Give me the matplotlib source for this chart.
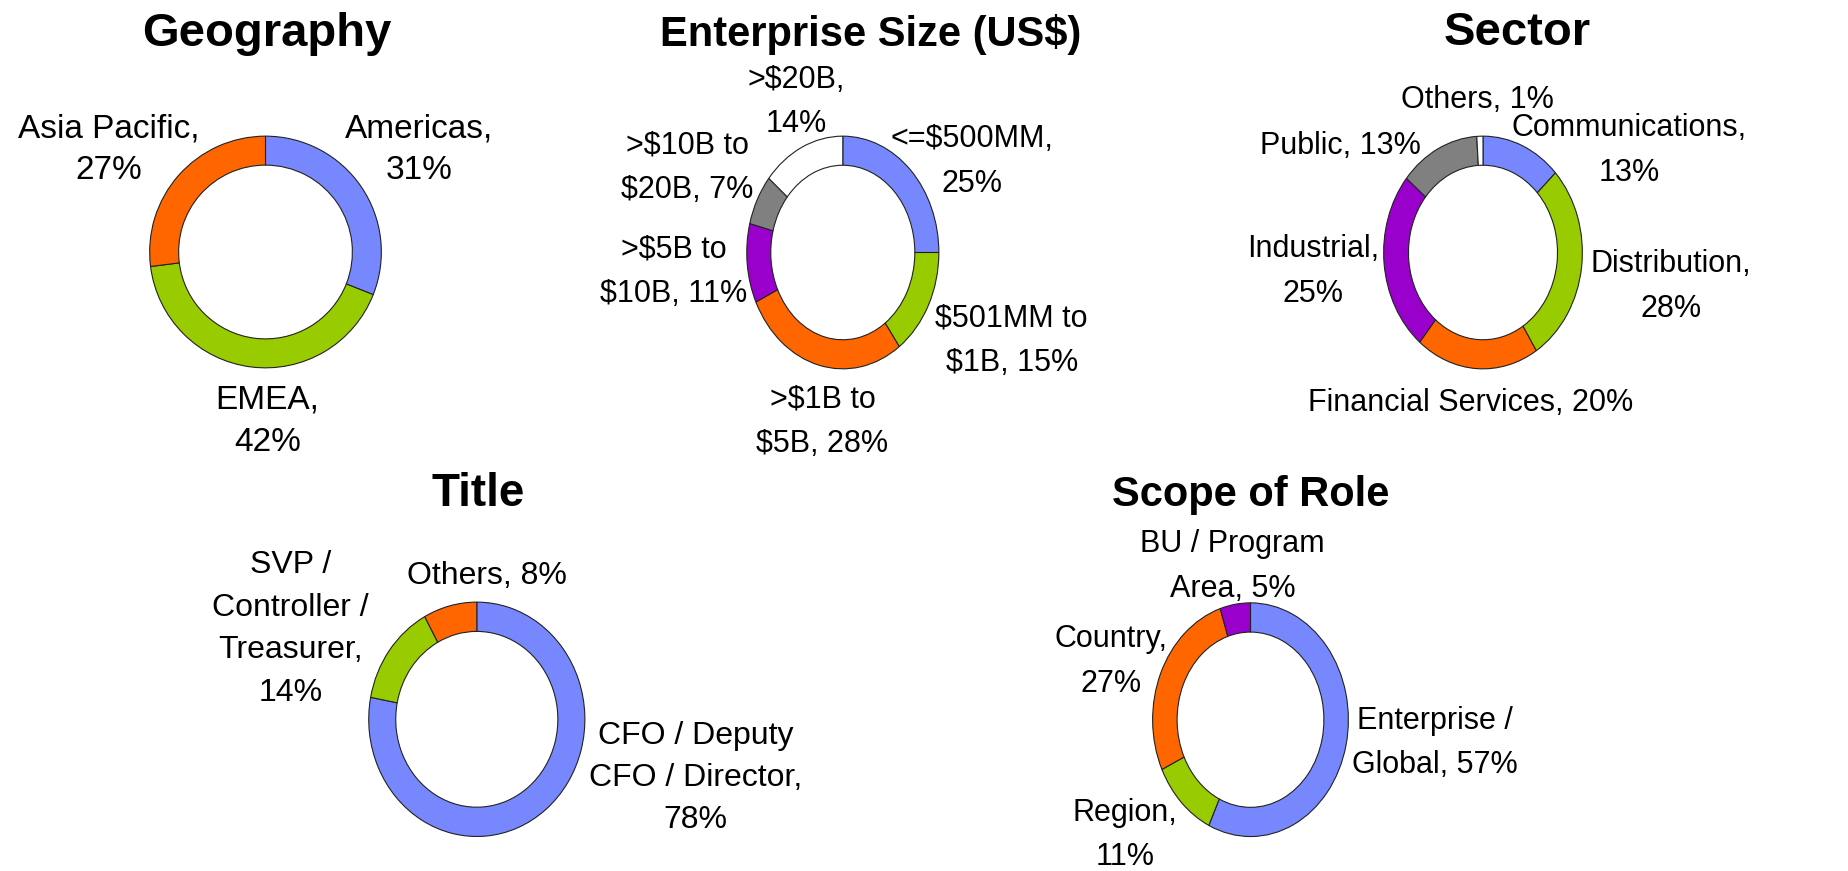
import matplotlib
matplotlib.use("Agg")
import matplotlib.pyplot as plt

plt.rcParams['font.family'] = ['Liberation Sans', 'DejaVu Sans']

W, H = 1848, 871

BLUE = '#7788ff'
GREEN = '#99cc00'
ORANGE = '#ff6600'
PURPLE = '#9900cc'
GRAY = '#808080'
WHITE = '#ffffff'

# data
geo_names = ["Americas", "EMEA", "Asia Pacific"]
geo_values = [31, 42, 27]

size_names = ["<=$500MM", "$501MM to\n$1B", ">$1B to\n$5B", ">$5B to\n$10B",
              ">$10B to\n$20B", ">$20B"]
size_values = [25, 15, 28, 11, 7, 14]

sector_names = ["Communications", "Distribution", "Financial Services",
                "Industrial", "Public", "Others"]
sector_values = [13, 28, 20, 25, 13, 1]

title_names = ["CFO / Deputy\nCFO / Director", "SVP /\nController /\nTreasurer", "Others"]
title_values = [78, 14, 8]

scope_names = ["Enterprise /\nGlobal", "Region", "Country", "BU / Program\nArea"]
scope_values = [57, 11, 27, 5]

# separator between name and value in each label (" " = same line)
geo_sep = ["\n", "\n", "\n"]
size_sep = ["\n", " ", " ", " ", " ", "\n"]
sector_sep = ["\n", "\n", " ", "\n", " ", " "]
title_sep = ["\n", "\n", " "]
scope_sep = [" ", "\n", "\n", " "]


def px_axes(cx, cy, w, h):
    return fig.add_axes([(cx - w / 2) / W, (H - cy - h / 2) / H, w / W, h / H])


def donut(cx, cy, w, h, values, colors, title, title_xy, title_fs):
    ax = px_axes(cx, cy, w, h)
    ax.pie(values, colors=colors, startangle=90, counterclock=False, radius=1,
           wedgeprops=dict(width=0.25, edgecolor='#222222', linewidth=0.8))
    ax.set_aspect('auto')
    ax.set_xlim(-1.01, 1.01)
    ax.set_ylim(-1.01, 1.01)
    ax.axis('off')
    fig.text(title_xy[0] / W, 1 - title_xy[1] / H, title, ha='center', va='baseline',
             fontsize=title_fs, fontweight='bold')


def labels(names, values, seps, positions, fs):
    # keep the baseline-to-baseline distance near 43 px whatever the size
    px = fs * 100 / 72
    ls = (42.7 / px - 0.21) / 0.73
    for n, v, s, (x, y) in zip(names, values, seps, positions):
        fig.text(x / W, 1 - (y + 3) / H, f"{n},{s}{v}%", ha='center', va='center',
                 fontsize=fs, linespacing=ls, multialignment='center')


fig = plt.figure(figsize=(W / 100, H / 100), dpi=100)

donut(265.5, 252, 234, 234, geo_values, [BLUE, GREEN, ORANGE], "Geography", (266.7, 46), 34)
labels(geo_names, geo_values, geo_sep,
       [(419.5, 146.7), (267.5, 418), (108.3, 146.7)], 24)

donut(842.8, 252.5, 194, 235, size_values, [BLUE, GREEN, ORANGE, PURPLE, GRAY, WHITE],
      "Enterprise Size (US$)", (870.8, 46), 30)
labels(size_names, size_values, size_sep,
       [(971.7, 158.3), (1011.7, 338), (822.5, 419), (674, 269), (687.5, 164.7), (795.8, 99)], 22)

donut(1483, 252.5, 200.7, 235, sector_values, [BLUE, GREEN, ORANGE, PURPLE, GRAY, WHITE],
      "Sector", (1517, 45), 34)
labels(sector_names, sector_values, sector_sep,
       [(1629, 147.5), (1670.8, 283.3), (1470.8, 400), (1313.3, 268.3), (1340, 142.5),
        (1477.5, 97.5)], 22)

donut(476.8, 719.3, 218.3, 236.7, title_values, [BLUE, GREEN, ORANGE], "Title", (477.7, 505.7), 33)
labels(title_names, title_values, title_sep,
       [(695.8, 775), (290.8, 625.8), (486.7, 573.3)], 23)

donut(1250.5, 719.7, 197.7, 236, scope_values, [BLUE, GREEN, ORANGE, PURPLE],
      "Scope of Role", (1251, 505.7), 30)
labels(scope_names, scope_values, scope_sep,
       [(1435, 740), (1125, 832), (1110.8, 658.3), (1232.5, 563.3)], 22)

fig.savefig("out.png", dpi=100, facecolor='white')
